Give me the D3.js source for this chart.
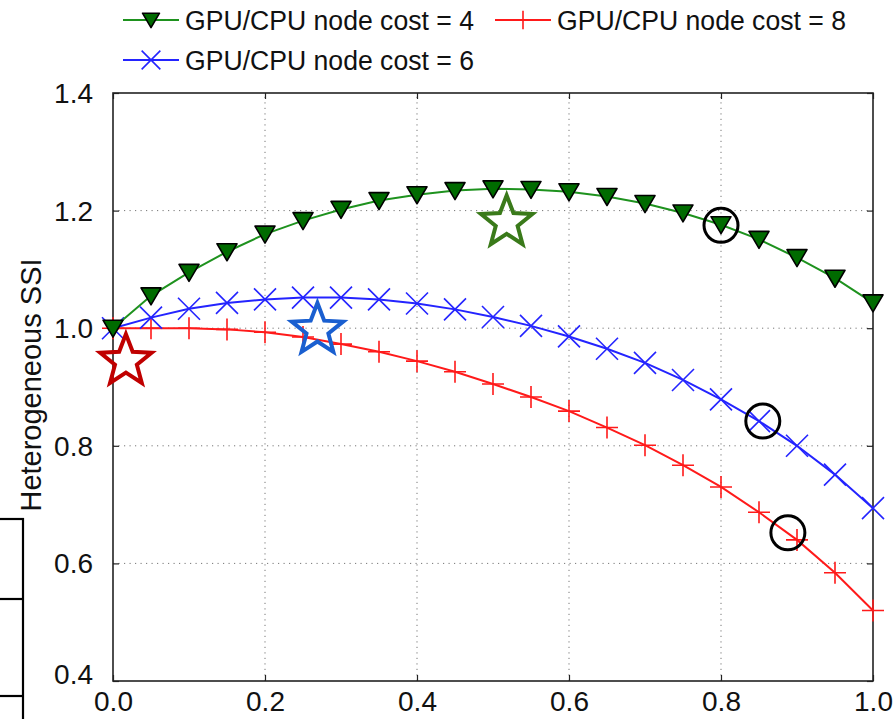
<!DOCTYPE html>
<html>
<head>
<meta charset="utf-8">
<script src="https://cdn.jsdelivr.net/npm/d3@7"></script>
<style>
  body { margin: 0; background: #fff; }
  svg { display: block; font-family: "Liberation Sans", Arial, sans-serif; }
</style>
</head>
<body>
<svg id="svg" width="894" height="719"></svg>
<script>
// ratio of GPU nodes (x) vs heterogeneous SSI (y)
const ratio = d3.range(0, 21).map(i => i / 20);
const cost4 = [1.000, 1.055, 1.095, 1.130, 1.160, 1.183, 1.202, 1.217, 1.227, 1.234, 1.237,
               1.236, 1.232, 1.224, 1.212, 1.196, 1.176, 1.151, 1.120, 1.085, 1.043];
const cost6 = [1.000, 1.018, 1.033, 1.043, 1.049, 1.052, 1.052, 1.049, 1.042, 1.032, 1.019,
               1.004, 0.986, 0.965, 0.941, 0.912, 0.879, 0.842, 0.800, 0.751, 0.694];
const cost8 = [1.000, 1.000, 1.000, 0.998, 0.993, 0.985, 0.973, 0.960, 0.944, 0.926, 0.905,
               0.883, 0.859, 0.831, 0.801, 0.767, 0.730, 0.687, 0.640, 0.584, 0.520];
const xTicks = [0, 0.2, 0.4, 0.6, 0.8, 1.0];
const yTicks = [0.4, 0.6, 0.8, 1.0, 1.2, 1.4];
const seriesNames = ['GPU/CPU node cost = 4', 'GPU/CPU node cost = 6', 'GPU/CPU node cost = 8'];
// annotation marks (data coords)
const stars = [[0.017, 0.944, '#c00000'], [0.269, 0.997, '#1a5fd0'], [0.518, 1.18, '#3a7a1a']];
const circles = [[0.8, 1.175], [0.855, 0.842], [0.888, 0.652]];

const svg = d3.select('#svg');
const x = d3.scaleLinear().domain([0, 1]).range([113, 873]);
const y = d3.scaleLinear().domain([0.4, 1.4]).range([681, 93]);

// stray table frame at the left edge
const frame = svg.append('g').attr('stroke', '#000').attr('stroke-width', 2.2);
frame.append('line').attr('x1', 23).attr('y1', 518).attr('x2', 23).attr('y2', 719);
[519, 599, 696].forEach(v => frame.append('line').attr('x1', 0).attr('y1', v).attr('x2', 24).attr('y2', v));

// grid
const grid = svg.append('g').attr('stroke', '#777').attr('stroke-width', 1).attr('stroke-dasharray', '1.2,4.3');
xTicks.slice(1, -1).forEach(t => grid.append('line').attr('x1', x(t)).attr('x2', x(t)).attr('y1', y(0.4)).attr('y2', y(1.4)));
yTicks.slice(1, -1).forEach(t => grid.append('line').attr('y1', y(t)).attr('y2', y(t)).attr('x1', x(0)).attr('x2', x(1)));

// axes with inward ticks
const tickFmt = d3.format('.1f');
const xAxis = svg.append('g').attr('transform', `translate(0,${y(0.4)})`)
  .call(d3.axisBottom(x).tickValues(xTicks).tickFormat(tickFmt).tickSizeInner(-6).tickSizeOuter(0).tickPadding(10));
const yAxis = svg.append('g').attr('transform', `translate(${x(0)},0)`)
  .call(d3.axisLeft(y).tickValues(yTicks).tickFormat(tickFmt).tickSizeInner(-6).tickSizeOuter(0).tickPadding(20));
svg.append('g').attr('transform', `translate(${x(1)},0)`)
  .call(d3.axisRight(y).tickValues(yTicks).tickFormat('').tickSizeInner(-6).tickSizeOuter(0));
svg.append('g').attr('transform', `translate(0,${y(1.4)})`)
  .call(d3.axisTop(x).tickValues(xTicks).tickFormat('').tickSizeInner(-6).tickSizeOuter(0));
svg.selectAll('.domain').remove();
svg.selectAll('.tick line').attr('stroke', '#222').attr('stroke-width', 1.2);
[xAxis, yAxis].forEach(a => a.selectAll('text').attr('font-size', 28).attr('fill', '#111')
  .attr('font-family', '"Liberation Sans", Arial, sans-serif'));
xAxis.selectAll('text').attr('dy', '0.71em');
yAxis.selectAll('text').attr('dy', '0.34em');
yAxis.selectAll('.tick').filter(d => d === 0.4).select('text').attr('dy', '0.1em');

svg.append('rect').attr('x', x(0)).attr('y', y(1.4)).attr('width', x(1) - x(0)).attr('height', y(0.4) - y(1.4))
  .attr('fill', 'none').attr('stroke', '#222').attr('stroke-width', 1.6);

svg.append('text').attr('transform', `translate(41,385) rotate(-90)`).attr('text-anchor', 'middle')
  .attr('font-size', 29).attr('fill', '#111').text('Heterogeneous SSI');

// markers
function triDown(g, cx, cy, k = 1) {
  g.append('path').attr('d', `M${cx - 10 * k},${cy - 8 * k}L${cx + 10 * k},${cy - 8 * k}L${cx},${cy + 9 * k}Z`)
    .attr('fill', '#006b00').attr('stroke', '#000').attr('stroke-width', 1.6).attr('stroke-linejoin', 'round');
}
function cross(g, cx, cy, k = 1) {
  const a = 11 * k;
  g.append('path').attr('d', `M${cx - a},${cy - a}L${cx + a},${cy + a}M${cx - a},${cy + a}L${cx + a},${cy - a}`)
    .attr('stroke', '#2424ff').attr('stroke-width', 1.6);
}
function plus(g, cx, cy, k = 1) {
  const a = 11 * k;
  g.append('path').attr('d', `M${cx - a},${cy}L${cx + a},${cy}M${cx},${cy - a}L${cx},${cy + a}`)
    .attr('stroke', '#ff1a1a').attr('stroke-width', 1.6);
}

const series = [
  { name: seriesNames[0], vals: cost4, color: '#1e921e', mark: triDown },
  { name: seriesNames[1], vals: cost6, color: '#2424ff', mark: cross },
  { name: seriesNames[2], vals: cost8, color: '#ff1a1a', mark: plus }
];
const line = d3.line().x((d, i) => x(ratio[i])).y(d => y(d));

// draw red, blue, then green on top
[series[2], series[1], series[0]].forEach(s => {
  const g = svg.append('g');
  g.append('path').datum(s.vals).attr('d', line).attr('fill', 'none').attr('stroke', s.color).attr('stroke-width', 2);
  s.vals.forEach((v, i) => s.mark(g, x(ratio[i]), y(v)));
});

// annotations
function starPath(cx, cy, R, r) {
  const pts = d3.range(10).map(i => {
    const a = -Math.PI / 2 + i * Math.PI / 5;
    const rad = i % 2 === 0 ? R : r;
    return [cx + rad * Math.cos(a), cy + rad * Math.sin(a)];
  });
  return 'M' + pts.map(p => p.join(',')).join('L') + 'Z';
}
stars.forEach(([sx, sy, c]) => {
  svg.append('path').attr('d', starPath(x(sx), y(sy), 27, 11.5)).attr('fill', 'none')
    .attr('stroke', c).attr('stroke-width', 4).attr('stroke-linejoin', 'miter');
});
circles.forEach(([cx, cy]) => {
  svg.append('circle').attr('cx', x(cx)).attr('cy', y(cy)).attr('r', 17)
    .attr('fill', 'none').attr('stroke', '#000').attr('stroke-width', 3);
});

// legend
const legendPos = [[123, 20, 0], [123, 60, 1], [495, 20, 2]];
legendPos.forEach(([lx, ly, k]) => {
  const s = series[k];
  const g = svg.append('g');
  g.append('line').attr('x1', lx).attr('x2', lx + 56).attr('y1', ly).attr('y2', ly).attr('stroke', s.color).attr('stroke-width', 2);
  s.mark(g, lx + 28, ly, 0.85);
  g.append('text').attr('x', lx + 62).attr('y', ly).attr('dy', '0.36em').attr('font-size', 27).attr('fill', '#111')
    .attr('textLength', 289).attr('lengthAdjust', 'spacingAndGlyphs').text(s.name);
});
</script>
</body>
</html>
